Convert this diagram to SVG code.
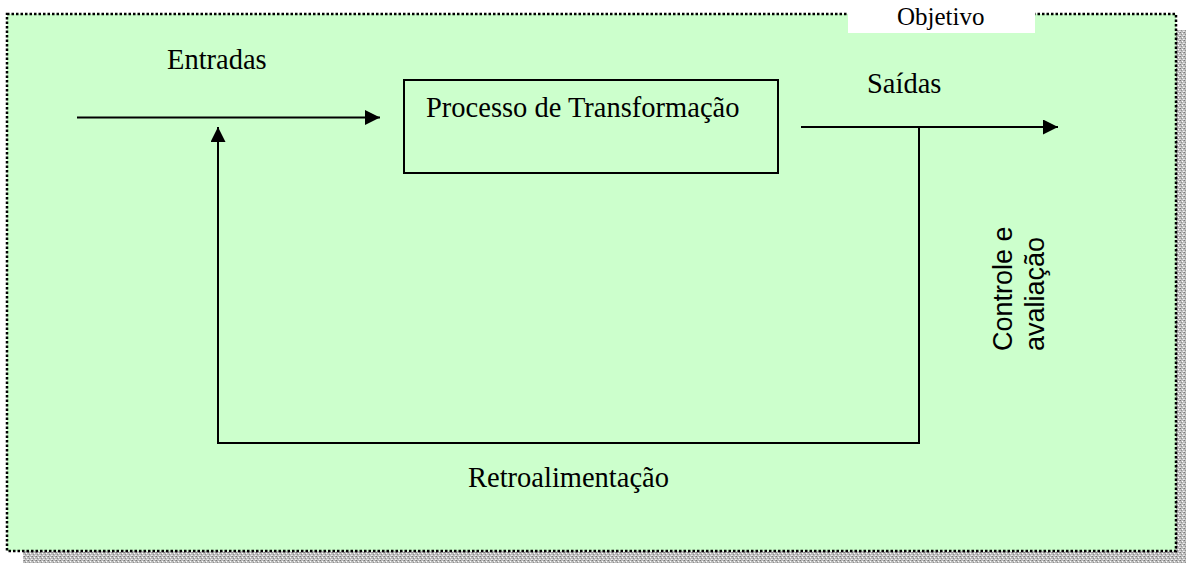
<svg xmlns="http://www.w3.org/2000/svg" width="1186" height="563" viewBox="0 0 1186 563">
<defs>
<pattern id="shade" width="4" height="4" patternUnits="userSpaceOnUse">
<rect width="4" height="4" fill="#bdbdbd"/>
<rect x="0" y="0" width="1" height="1" fill="#7a7a7a"/>
<rect x="2" y="1" width="1" height="1" fill="#ffffff"/>
<rect x="1" y="2" width="1" height="1" fill="#909090"/>
<rect x="3" y="3" width="1" height="1" fill="#eeeeee"/>
<rect x="3" y="0" width="1" height="1" fill="#a0a0a0"/>
<rect x="0" y="3" width="1" height="1" fill="#dddddd"/>
</pattern>
<marker id="arr" viewBox="0 0 10 10" refX="10" refY="5" markerWidth="8" markerHeight="7.5" markerUnits="strokeWidth" orient="auto">
<path d="M0,0 L10,5 L0,10 z" fill="#000"/>
</marker>
<style>
.lbl{font-family:"Liberation Serif","Times New Roman",serif;font-size:28.5px;fill:#000}
.side{font-family:"Liberation Sans",Arial,sans-serif;font-size:27px;fill:#000}
.ln{stroke:#000;stroke-width:2;fill:none}
</style>
</defs>
<g id="background">
<rect x="23" y="30" width="1163" height="533" fill="url(#shade)"/>
<rect x="7" y="14" width="1169" height="537" fill="#ccffcc" stroke="#000" stroke-width="2.5" stroke-dasharray="2.5 2"/>
</g>
<g id="objetivo">
<rect x="848" y="0" width="187" height="33" fill="#ffffff"/>
<text class="lbl" x="897" y="25" style="font-size:25px">Objetivo</text>
</g>
<g id="connectors">
<line class="ln" x1="77" y1="117.5" x2="380" y2="117.5" marker-end="url(#arr)"/>
<polyline class="ln" points="919,127 919,443 218,443 218,127" marker-end="url(#arr)"/>
<line class="ln" x1="801" y1="127" x2="1058" y2="127" marker-end="url(#arr)"/>
</g>
<g id="entradas">
<text class="lbl" x="167" y="69">Entradas</text>
</g>
<g id="processo">
<rect x="404" y="80" width="374" height="93" fill="none" stroke="#000" stroke-width="2"/>
<text class="lbl" x="426" y="117">Processo de Transformação</text>
</g>
<g id="saidas">
<text class="lbl" x="867" y="93">Saídas</text>
</g>
<g id="controle">
<text class="side" transform="translate(1012,351) rotate(-90)">Controle e</text>
<text class="side" transform="translate(1044,351) rotate(-90)">avaliação</text>
</g>
<g id="retroalimentacao">
<text class="lbl" x="468" y="487">Retroalimentação</text>
</g>
</svg>
